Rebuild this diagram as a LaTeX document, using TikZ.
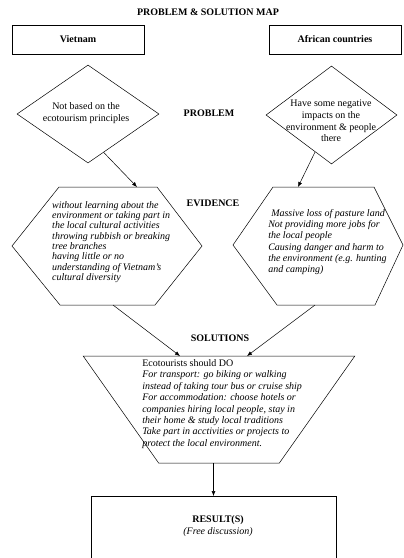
\documentclass[tikz,border=0pt]{standalone}
\usepackage{fontspec}
\setmainfont{Liberation Serif}
\usetikzlibrary{shapes.geometric,arrows.meta,calc}
\tikzset{
  boite/.style={draw,minimum width=132pt,minimum height=29pt,font=\bfseries},
  losange/.style={draw,diamond,inner sep=0pt},
  titre/.style={font=\bfseries},
  texte/.style={font=\itshape,align=left,inner sep=0pt,anchor=west},
  fleche/.style={-{Latex[length=5pt,width=4pt]}},
}
\begin{document}
\begin{tikzpicture}[x=1pt,y=-1pt,line width=0.5pt]
		\useasboundingbox (0,0) rectangle (404,558);
		\clip (0,0) rectangle (404,558);
		%titres
		\node[titre] (carte) at (208,12) {PROBLEM \& SOLUTION MAP};
		\node[titre] (pb) at (209,113) {PROBLEM};
		\node[titre] (ev) at (213,203) {EVIDENCE};
		\node[titre] (sol) at (220,338) {SOLUTIONS};
		%pays
		\node[boite] (vn) at (78,39.5) {Vietnam};
		\node[boite] (af) at (335,39.5) {African countries};
		%problemes
		\node[losange,minimum width=142pt,minimum height=98pt] (pbvn) at (88,114) {};
		\node[align=center] (txtpbvn) at (86,113) {Not based on the\\ecotourism principles};
		\node[losange,minimum width=131pt,minimum height=98pt] (pbaf) at (331.5,115) {};
		\node[align=center,font=\fontsize{10}{11.7}\selectfont] (txtpbaf) at (331,121)
			{Have some negative\\impacts on the\\environment \& people\\there};
		%evidences
		\draw (12,246) -- (59,187) -- (157,187) -- (202,246) -- (155,305) -- (60,305) -- cycle;
		\coordinate (evvnh) at (137,187);
		\coordinate (evvnb) at (113,305);
		\node[texte,font=\itshape\fontsize{10}{10.3}\selectfont] (txtevvn) at (52,242)
			{without  learning about the\\environment or taking part in\\the local cultural activities\\throwing rubbish or breaking\\tree branches\\having little or no\\understanding of Vietnam's\\cultural diversity};
		\draw (233,245) -- (273,187) -- (374,187) -- (403,245) -- (375,305) -- (277,305) -- cycle;
		\coordinate (evafh) at (298,187);
		\coordinate (evafb) at (315,305);
		\node[texte,font=\itshape\fontsize{10}{11.1}\selectfont] (txtevaf) at (268,242)
			{\hspace{3pt}Massive loss of pasture land\\Not providing more jobs for\\the local people\\Causing danger and harm to\\the environment (e.g. hunting\\and camping)};
		%solutions
		\node[draw,trapezium,shape border rotate=180,trapezium stretches=true,
			trapezium left angle=58,trapezium right angle=58,
			minimum width=272pt,minimum height=107pt] (solbox) at (219,409.5) {};
		\node[texte,font=\fontsize{10}{11.4}\selectfont] (txtsol) at (142,404)
			{Ecotourists should DO\\\textit{For transport: go biking or walking}\\\textit{instead of taking tour bus or cruise ship}\\\textit{For accommodation: choose hotels or}\\\textit{companies hiring local people, stay in}\\\textit{their home \& study local traditions}\\\textit{Take part in acctivities or projects to}\\\textit{protect the local environment.}};
		%resultat
		\node[draw,minimum width=245pt,minimum height=80pt,anchor=north] (res) at (213.5,496) {};
		\node[align=center] (txtres) at (218,526) {\textbf{RESULT(S)}\\\textit{(Free discussion)}};
		%fleches
		\draw[fleche] ($(pbvn.south)!0.22!(pbvn.east)$) -- (evvnh);
		\draw[fleche] ($(pbaf.south)!0.25!(pbaf.west)$) -- (evafh);
		\draw[fleche] (evvnb) -- (180,356);
		\draw[fleche] (evafb) -- (247,356);
		\draw[fleche] (res.north |- solbox.south) -- (res.north);
	\end{tikzpicture}
\end{document}
